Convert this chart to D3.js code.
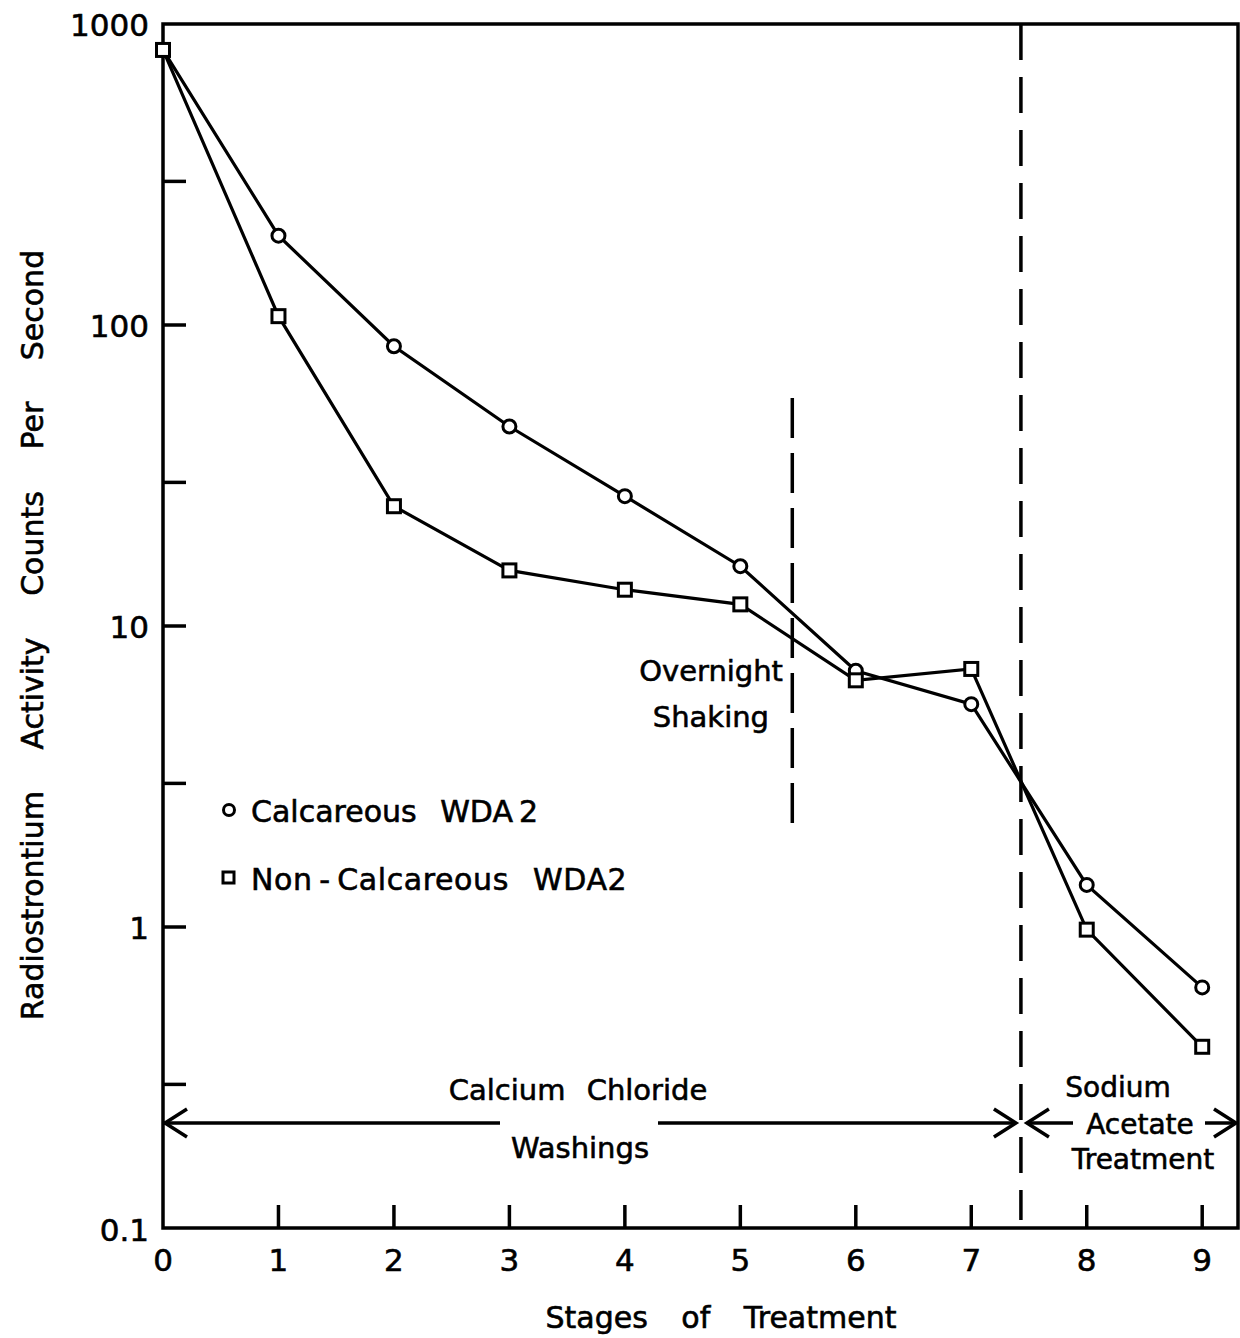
<!DOCTYPE html>
<html>
<head>
<meta charset="utf-8">
<script src="https://cdn.jsdelivr.net/npm/d3@7"></script>
<style>
  body { margin: 0; background: #fff; }
  text { font-family: "DejaVu Sans", sans-serif; fill: #000; stroke: #000; stroke-width: 0.6px; }
</style>
</head>
<body>
<div id="chart-container"></div>
<script>
// Data
const stages = [0, 1, 2, 3, 4, 5, 6, 7, 8, 9];
const calcareous = [820, 198, 85, 46, 27, 15.8, 7.1, 5.5, 1.38, 0.63];
const nonCalcareous = [820, 107, 25, 15.3, 13.2, 11.8, 6.6, 7.2, 0.98, 0.40];
const yMajor = [1000, 100, 10, 1, 0.1];
const yMinor = [300, 30, 3, 0.3];
const yLabels = ["1000", "100", "10", "1", "0.1"];
const xTicks = [1, 2, 3, 4, 5, 6, 7, 8, 9];
const xLabels = ["0", "1", "2", "3", "4", "5", "6", "7", "8", "9"];
const shakingStage = 5.45;
const sodiumStage = 7.43;

const width = 1240, height = 1338;
const x = d3.scaleLinear().domain([0, 9.31]).range([163, 1238]);
const y = d3.scaleLog().domain([0.1, 1000]).range([1228, 24]);

const svg = d3.select("#chart-container")
    .append("svg")
    .attr("width", width)
    .attr("height", height);

// frame
svg.append("rect")
    .attr("x", x(0)).attr("y", y(1000))
    .attr("width", x(9.31) - x(0)).attr("height", y(0.1) - y(1000))
    .attr("fill", "none").attr("stroke", "#000").attr("stroke-width", 3.5);

// y ticks (inward)
svg.append("g").selectAll("line")
    .data(yMajor.slice(1, 4).concat(yMinor))
    .join("line")
    .attr("x1", x(0)).attr("x2", x(0) + 23)
    .attr("y1", d => y(d)).attr("y2", d => y(d))
    .attr("stroke", "#000").attr("stroke-width", 3.5);

svg.append("g").selectAll("text")
    .data(yMajor)
    .join("text")
    .attr("x", 149)
    .attr("y", d => d === 0.1 ? y(d) + 13 : y(d) + 12)
    .attr("text-anchor", "end")
    .attr("font-size", 31)
    .text((d, i) => yLabels[i]);

// x ticks (inward)
svg.append("g").selectAll("line")
    .data(xTicks)
    .join("line")
    .attr("x1", d => x(d)).attr("x2", d => x(d))
    .attr("y1", y(0.1)).attr("y2", y(0.1) - 23)
    .attr("stroke", "#000").attr("stroke-width", 3.5);

svg.append("g").selectAll("text")
    .data(stages)
    .join("text")
    .attr("x", d => x(d))
    .attr("y", 1271)
    .attr("text-anchor", "middle")
    .attr("font-size", 31)
    .text((d, i) => xLabels[i]);

// axis titles
svg.append("text")
    .attr("transform", `translate(43, 635) rotate(-90)`)
    .attr("text-anchor", "middle")
    .attr("font-size", 30)
    .attr("word-spacing", 32)
    .text("Radiostrontium Activity Counts Per Second");

svg.append("text")
    .attr("x", 721).attr("y", 1328)
    .attr("text-anchor", "middle")
    .attr("font-size", 30)
    .attr("word-spacing", 24)
    .text("Stages of Treatment");

// dashed separators
svg.append("line")
    .attr("x1", x(shakingStage)).attr("x2", x(shakingStage))
    .attr("y1", 398).attr("y2", 838)
    .attr("stroke", "#000").attr("stroke-width", 3.5)
    .attr("stroke-dasharray", "40,15");

svg.append("line")
    .attr("x1", x(sodiumStage)).attr("x2", x(sodiumStage))
    .attr("y1", y(1000)).attr("y2", 1220)
    .attr("stroke", "#000").attr("stroke-width", 3.5)
    .attr("stroke-dasharray", "36,17");

// series lines
const line = d3.line()
    .x((d, i) => x(stages[i]))
    .y(d => y(d));

[calcareous, nonCalcareous].forEach(s => {
    svg.append("path")
        .datum(s)
        .attr("d", line)
        .attr("fill", "none")
        .attr("stroke", "#000")
        .attr("stroke-width", 3.2);
});

// markers
svg.append("g").selectAll("circle")
    .data(calcareous)
    .join("circle")
    .attr("cx", (d, i) => x(stages[i]))
    .attr("cy", d => y(d))
    .attr("r", 6.5)
    .attr("fill", "#fff").attr("stroke", "#000").attr("stroke-width", 3);

svg.append("g").selectAll("rect")
    .data(nonCalcareous)
    .join("rect")
    .attr("x", (d, i) => x(stages[i]) - 6.5)
    .attr("y", d => y(d) - 6.5)
    .attr("width", 13).attr("height", 13)
    .attr("fill", "#fff").attr("stroke", "#000").attr("stroke-width", 3);

// legend
svg.append("circle")
    .attr("cx", 229).attr("cy", 810).attr("r", 5.5)
    .attr("fill", "#fff").attr("stroke", "#000").attr("stroke-width", 3);
svg.append("text")
    .attr("x", 251).attr("y", 822)
    .attr("font-size", 30).attr("word-spacing", 14)
    .text("Calcareous WDA\u20092");
svg.append("rect")
    .attr("x", 223).attr("y", 872).attr("width", 11).attr("height", 11)
    .attr("fill", "#fff").attr("stroke", "#000").attr("stroke-width", 3);
svg.append("text")
    .attr("x", 251).attr("y", 890)
    .attr("font-size", 30).attr("word-spacing", 14).attr("letter-spacing", 0.6)
    .text("Non\u2009-\u2009Calcareous WDA2");

// annotations
svg.append("text")
    .attr("x", 783).attr("y", 681)
    .attr("text-anchor", "end")
    .attr("font-size", 29)
    .text("Overnight");
svg.append("text")
    .attr("x", 769).attr("y", 727)
    .attr("text-anchor", "end")
    .attr("font-size", 29)
    .text("Shaking");

function arrowHead(g, tipX, tipY, dir) {
    g.append("path")
        .attr("d", `M${tipX - dir * 22},${tipY - 14} L${tipX},${tipY} L${tipX - dir * 22},${tipY + 14}`)
        .attr("fill", "none").attr("stroke", "#000").attr("stroke-width", 3.5);
}

const arrowY = 1123;
const ann = svg.append("g");
ann.append("line").attr("x1", x(0)).attr("x2", 500).attr("y1", arrowY).attr("y2", arrowY)
    .attr("stroke", "#000").attr("stroke-width", 3.5);
ann.append("line").attr("x1", 658).attr("x2", x(sodiumStage) - 5).attr("y1", arrowY).attr("y2", arrowY)
    .attr("stroke", "#000").attr("stroke-width", 3.5);
arrowHead(ann, x(0) + 2, arrowY, -1);
arrowHead(ann, x(sodiumStage) - 5, arrowY, 1);

ann.append("text").attr("x", 578).attr("y", 1100).attr("text-anchor", "middle")
    .attr("font-size", 29).attr("word-spacing", 12).text("Calcium Chloride");
ann.append("text").attr("x", 580).attr("y", 1158).attr("text-anchor", "middle")
    .attr("font-size", 29).text("Washings");

ann.append("line").attr("x1", x(sodiumStage) + 6).attr("x2", 1073).attr("y1", arrowY).attr("y2", arrowY)
    .attr("stroke", "#000").attr("stroke-width", 3.5);
ann.append("line").attr("x1", 1205).attr("x2", 1236).attr("y1", arrowY).attr("y2", arrowY)
    .attr("stroke", "#000").attr("stroke-width", 3.5);
arrowHead(ann, x(sodiumStage) + 6, arrowY, -1);
arrowHead(ann, 1236, arrowY, 1);

ann.append("text").attr("x", 1118).attr("y", 1097).attr("text-anchor", "middle")
    .attr("font-size", 28).text("Sodium");
ann.append("text").attr("x", 1140).attr("y", 1134).attr("text-anchor", "middle")
    .attr("font-size", 28).text("Acetate");
ann.append("text").attr("x", 1143).attr("y", 1169).attr("text-anchor", "middle")
    .attr("font-size", 28).text("Treatment");
</script>
</body>
</html>
